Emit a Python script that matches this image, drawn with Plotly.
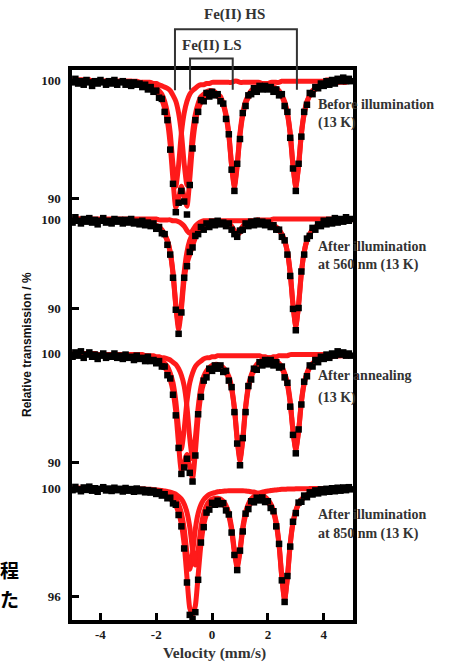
import plotly.graph_objects as go

# ---------------- data ----------------
velocity = [-5.0, -4.9, -4.8, -4.7, -4.6, -4.5, -4.4, -4.3, -4.2, -4.1,
            -4.0, -3.9, -3.8, -3.7, -3.6, -3.5, -3.4, -3.3, -3.2, -3.1,
            -3.0, -2.9, -2.8, -2.7, -2.6, -2.5, -2.4, -2.3, -2.2, -2.1,
            -2.0, -1.9, -1.8, -1.7, -1.6, -1.5, -1.4, -1.3, -1.2, -1.1,
            -1.0, -0.9, -0.8, -0.7, -0.6, -0.5, -0.4, -0.3, -0.2, -0.1,
            0.0, 0.1, 0.2, 0.3, 0.4, 0.5, 0.6, 0.7, 0.8, 0.9,
            1.0, 1.1, 1.2, 1.3, 1.4, 1.5, 1.6, 1.7, 1.8, 1.9,
            2.0, 2.1, 2.2, 2.3, 2.4, 2.5, 2.6, 2.7, 2.8, 2.9,
            3.0, 3.1, 3.2, 3.3, 3.4, 3.5, 3.6, 3.7, 3.8, 3.9,
            4.0, 4.1, 4.2, 4.3, 4.4, 4.5, 4.6, 4.7, 4.8, 4.9,
            5.0]

# Panel 1: before illumination (13 K)
p1_data = [99.8, 100.1, 99.7, 99.9, 99.6, 100.0, 99.8, 99.5, 99.9, 99.7,
           100.0, 99.8, 99.6, 99.9, 99.7, 100.0, 99.6, 99.8, 99.9, 99.6,
           99.8, 99.5, 99.8, 99.6, 99.7, 99.4, 99.6, 99.2, 99.4, 99.0,
           99.1, 98.5, 98.4, 97.3, 96.6, 94.1, 91.2, 88.8, 89.6, 90.6,
           89.7, 88.6, 91.1, 94.2, 96.6, 97.3, 98.3, 98.2, 98.9, 98.6,
           99.0, 98.7, 98.8, 98.2, 98.0, 96.7, 95.4, 92.4, 90.6, 92.9,
           95.0, 97.2, 97.8, 98.7, 98.8, 99.3, 99.0, 99.5, 99.2, 99.5,
           99.2, 99.4, 99.0, 99.2, 98.7, 98.8, 97.8, 97.3, 95.1, 92.5,
           90.6, 92.9, 95.2, 97.3, 97.9, 98.9, 98.8, 99.4, 99.3, 99.7,
           99.5, 99.9, 99.6, 100.0, 99.7, 100.1, 99.9, 100.2, 99.9, 100.1,
           99.9]
p1_total = [99.9, 99.9, 99.9, 99.9, 99.9, 99.9, 99.9, 99.9, 99.9, 99.9,
            99.9, 99.9, 99.9, 99.9, 99.9, 99.8, 99.8, 99.8, 99.8, 99.8,
            99.8, 99.7, 99.7, 99.7, 99.6, 99.6, 99.5, 99.4, 99.3, 99.2,
            99.0, 98.7, 98.3, 97.6, 96.5, 94.5, 91.5, 89.2, 90.0, 91.0,
            90.1, 89.3, 91.6, 94.5, 96.4, 97.5, 98.1, 98.4, 98.7, 98.8,
            98.8, 98.8, 98.6, 98.4, 97.9, 96.9, 95.3, 92.7, 90.9, 92.7,
            95.3, 97.0, 98.0, 98.5, 98.9, 99.1, 99.2, 99.3, 99.3, 99.3,
            99.3, 99.3, 99.2, 99.1, 98.9, 98.6, 98.0, 97.1, 95.4, 92.7,
            90.9, 92.7, 95.4, 97.1, 98.1, 98.7, 99.0, 99.2, 99.4, 99.5,
            99.6, 99.6, 99.7, 99.7, 99.8, 99.8, 99.8, 99.8, 99.8, 99.9,
            99.9]
p1_hs = [100.0, 100.0, 100.0, 100.0, 100.0, 100.0, 100.0, 99.9, 99.9, 99.9,
         99.9, 99.9, 99.9, 99.9, 99.9, 99.9, 99.9, 99.9, 99.9, 99.9,
         99.9, 99.9, 99.8, 99.8, 99.8, 99.8, 99.7, 99.6, 99.6, 99.5,
         99.3, 99.1, 98.8, 98.2, 97.2, 95.5, 92.8, 91.0, 92.8, 95.5,
         97.2, 98.2, 98.8, 99.1, 99.3, 99.5, 99.6, 99.6, 99.7, 99.7,
         99.8, 99.8, 99.8, 99.8, 99.8, 99.8, 99.8, 99.8, 99.9, 99.9,
         99.8, 99.8, 99.8, 99.8, 99.8, 99.8, 99.8, 99.8, 99.7, 99.7,
         99.6, 99.6, 99.4, 99.3, 99.1, 98.7, 98.2, 97.2, 95.5, 92.8,
         91.0, 92.8, 95.5, 97.2, 98.2, 98.7, 99.1, 99.3, 99.5, 99.6,
         99.6, 99.7, 99.8, 99.8, 99.8, 99.8, 99.9, 99.9, 99.9, 99.9,
         99.9]
p1_ls = [100.0, 100.0, 100.0, 100.0, 100.0, 100.0, 100.0, 99.9, 99.9, 99.9,
         99.9, 99.9, 99.9, 99.9, 99.9, 99.9, 99.9, 99.9, 99.9, 99.9,
         99.9, 99.9, 99.9, 99.9, 99.8, 99.8, 99.8, 99.8, 99.8, 99.7,
         99.7, 99.6, 99.5, 99.4, 99.3, 99.1, 98.7, 98.2, 97.2, 95.5,
         92.9, 91.1, 92.8, 95.5, 97.1, 98.0, 98.6, 98.8, 99.0, 99.1,
         99.1, 99.0, 98.8, 98.6, 98.0, 97.1, 95.5, 92.8, 91.1, 92.9,
         95.5, 97.2, 98.2, 98.7, 99.1, 99.3, 99.4, 99.5, 99.6, 99.7,
         99.7, 99.8, 99.8, 99.8, 99.8, 99.9, 99.9, 99.9, 99.9, 99.9,
         99.9, 99.9, 99.9, 99.9, 99.9, 99.9, 99.9, 99.9, 99.9, 99.9,
         99.9, 100.0, 100.0, 100.0, 100.0, 100.0, 100.0, 100.0, 100.0, 100.0,
         100.0]

# Panel 2: after illumination at 560 nm (13 K)
p2_data = [99.6, 100.2, 99.8, 99.5, 100.0, 99.7, 100.1, 99.6, 99.9, 99.4,
           99.8, 100.1, 99.6, 99.8, 99.5, 100.0, 99.7, 99.9, 99.5, 99.9,
           99.6, 100.0, 99.5, 99.7, 99.4, 99.8, 99.3, 99.6, 99.2, 99.5,
           98.9, 99.1, 98.4, 98.3, 97.1, 96.0, 93.4, 89.8, 87.1, 89.5,
           93.4, 94.7, 96.3, 96.8, 98.1, 98.3, 99.1, 98.8, 99.5, 99.1,
           99.7, 99.3, 99.8, 99.4, 99.6, 99.2, 99.5, 98.8, 98.3, 98.0,
           98.7, 98.8, 99.5, 99.2, 99.7, 99.3, 99.8, 99.4, 99.7, 99.3,
           99.6, 99.1, 99.3, 98.8, 98.8, 98.0, 97.6, 96.0, 93.6, 89.9,
           87.5, 90.0, 94.1, 96.0, 97.8, 98.1, 99.0, 98.8, 99.4, 99.2,
           99.8, 99.4, 99.9, 99.5, 100.1, 99.6, 100.0, 99.7, 100.2, 99.8,
           100.0]
p2_total = [99.9, 99.9, 99.9, 99.9, 99.9, 99.9, 99.9, 99.9, 99.9, 99.9,
            99.9, 99.9, 99.9, 99.9, 99.9, 99.9, 99.9, 99.9, 99.8, 99.8,
            99.8, 99.8, 99.8, 99.8, 99.7, 99.7, 99.6, 99.6, 99.5, 99.4,
            99.2, 99.0, 98.7, 98.2, 97.5, 96.2, 93.8, 90.2, 87.6, 89.9,
            93.2, 95.0, 96.0, 97.0, 97.9, 98.5, 98.9, 99.1, 99.3, 99.4,
            99.5, 99.5, 99.5, 99.5, 99.5, 99.4, 99.3, 99.0, 98.5, 98.2,
            98.5, 99.0, 99.3, 99.4, 99.5, 99.5, 99.6, 99.6, 99.5, 99.5,
            99.4, 99.3, 99.2, 99.0, 98.7, 98.3, 97.5, 96.3, 93.9, 90.3,
            87.9, 90.3, 93.9, 96.3, 97.6, 98.3, 98.8, 99.0, 99.2, 99.4,
            99.5, 99.6, 99.6, 99.7, 99.7, 99.8, 99.8, 99.8, 99.8, 99.8,
            99.9]
p2_hs = [100.0, 100.0, 100.0, 100.0, 99.9, 99.9, 99.9, 99.9, 99.9, 99.9,
         99.9, 99.9, 99.9, 99.9, 99.9, 99.9, 99.9, 99.9, 99.9, 99.9,
         99.8, 99.8, 99.8, 99.8, 99.7, 99.7, 99.7, 99.6, 99.5, 99.4,
         99.3, 99.1, 98.8, 98.3, 97.6, 96.3, 94.0, 90.4, 88.0, 90.4,
         94.0, 96.3, 97.6, 98.3, 98.8, 99.1, 99.3, 99.4, 99.5, 99.6,
         99.6, 99.7, 99.7, 99.7, 99.8, 99.8, 99.8, 99.8, 99.8, 99.8,
         99.8, 99.8, 99.8, 99.8, 99.8, 99.7, 99.7, 99.7, 99.6, 99.6,
         99.5, 99.4, 99.3, 99.1, 98.8, 98.3, 97.6, 96.3, 94.0, 90.4,
         88.0, 90.4, 94.0, 96.3, 97.6, 98.3, 98.8, 99.1, 99.3, 99.4,
         99.5, 99.6, 99.7, 99.7, 99.7, 99.8, 99.8, 99.8, 99.8, 99.9,
         99.9]
p2_ls = [100.0, 100.0, 100.0, 100.0, 100.0, 100.0, 100.0, 100.0, 100.0, 100.0,
         100.0, 100.0, 100.0, 100.0, 100.0, 100.0, 100.0, 100.0, 100.0, 100.0,
         100.0, 100.0, 100.0, 100.0, 100.0, 100.0, 100.0, 100.0, 100.0, 100.0,
         100.0, 99.9, 99.9, 99.9, 99.9, 99.9, 99.8, 99.8, 99.7, 99.5,
         99.2, 98.7, 98.4, 98.7, 99.2, 99.5, 99.7, 99.8, 99.8, 99.8,
         99.8, 99.8, 99.8, 99.8, 99.7, 99.6, 99.5, 99.2, 98.7, 98.4,
         98.7, 99.2, 99.5, 99.7, 99.8, 99.8, 99.9, 99.9, 99.9, 99.9,
         99.9, 99.9, 100.0, 100.0, 100.0, 100.0, 100.0, 100.0, 100.0, 100.0,
         100.0, 100.0, 100.0, 100.0, 100.0, 100.0, 100.0, 100.0, 100.0, 100.0,
         100.0, 100.0, 100.0, 100.0, 100.0, 100.0, 100.0, 100.0, 100.0, 100.0,
         100.0]

# Panel 3: after annealing (13 K)
p3_data = [99.7, 100.1, 99.8, 100.2, 99.6, 99.9, 100.1, 99.7, 99.9, 99.5,
           99.8, 100.0, 99.6, 99.8, 99.7, 100.0, 99.6, 99.8, 99.5, 99.9,
           99.6, 99.7, 99.4, 99.8, 99.5, 99.6, 99.3, 99.7, 99.3, 99.4,
           99.1, 99.3, 98.8, 98.8, 98.0, 97.7, 96.2, 94.3, 91.3, 88.9,
           89.5, 90.3, 89.0, 88.2, 90.6, 94.4, 96.0, 97.5, 97.8, 98.6,
           98.4, 98.9, 98.6, 98.9, 98.3, 98.4, 97.5, 96.9, 94.6, 91.7,
           89.7, 92.2, 94.6, 97.0, 97.6, 98.6, 98.5, 99.2, 98.9, 99.4,
           99.0, 99.4, 98.9, 99.2, 98.7, 98.8, 97.8, 97.3, 95.1, 92.5,
           90.8, 93.0, 95.3, 97.4, 97.9, 98.9, 98.8, 99.4, 99.2, 99.7,
           99.5, 99.9, 99.6, 100.0, 99.8, 100.2, 99.9, 100.1, 99.8, 100.0,
           99.8]
p3_total = [99.9, 99.9, 99.9, 99.9, 99.9, 99.9, 99.9, 99.9, 99.9, 99.9,
            99.9, 99.9, 99.9, 99.9, 99.9, 99.9, 99.8, 99.8, 99.8, 99.8,
            99.8, 99.8, 99.8, 99.7, 99.7, 99.7, 99.6, 99.6, 99.5, 99.4,
            99.3, 99.2, 99.0, 98.7, 98.3, 97.6, 96.5, 94.6, 91.6, 89.2,
            89.9, 90.7, 89.5, 88.5, 90.9, 94.1, 96.2, 97.3, 98.0, 98.4,
            98.6, 98.7, 98.7, 98.7, 98.5, 98.2, 97.7, 96.7, 94.9, 92.0,
            90.1, 92.0, 94.9, 96.8, 97.8, 98.4, 98.7, 99.0, 99.1, 99.2,
            99.2, 99.2, 99.1, 99.1, 98.9, 98.6, 98.0, 97.1, 95.4, 92.8,
            91.1, 92.8, 95.5, 97.2, 98.1, 98.7, 99.0, 99.2, 99.4, 99.5,
            99.6, 99.6, 99.7, 99.7, 99.8, 99.8, 99.8, 99.8, 99.8, 99.8,
            99.9]
p3_hs = [100.0, 100.0, 100.0, 100.0, 100.0, 100.0, 100.0, 100.0, 100.0, 99.9,
         99.9, 99.9, 99.9, 99.9, 99.9, 99.9, 99.9, 99.9, 99.9, 99.9,
         99.9, 99.9, 99.9, 99.9, 99.8, 99.8, 99.8, 99.8, 99.7, 99.7,
         99.6, 99.5, 99.3, 99.1, 98.8, 98.2, 97.3, 95.6, 93.0, 91.2,
         93.0, 95.6, 97.3, 98.2, 98.8, 99.1, 99.3, 99.5, 99.6, 99.6,
         99.7, 99.7, 99.8, 99.8, 99.8, 99.8, 99.8, 99.8, 99.8, 99.8,
         99.8, 99.8, 99.8, 99.8, 99.8, 99.8, 99.8, 99.8, 99.7, 99.7,
         99.6, 99.6, 99.5, 99.3, 99.1, 98.8, 98.2, 97.3, 95.6, 92.9,
         91.2, 92.9, 95.6, 97.3, 98.2, 98.8, 99.1, 99.3, 99.5, 99.6,
         99.6, 99.7, 99.7, 99.8, 99.8, 99.8, 99.8, 99.9, 99.9, 99.9,
         99.9]
p3_ls = [100.0, 100.0, 100.0, 100.0, 100.0, 100.0, 100.0, 100.0, 100.0, 99.9,
         99.9, 99.9, 99.9, 99.9, 99.9, 99.9, 99.9, 99.9, 99.9, 99.9,
         99.9, 99.9, 99.9, 99.9, 99.9, 99.9, 99.8, 99.8, 99.8, 99.8,
         99.7, 99.7, 99.6, 99.6, 99.5, 99.4, 99.2, 99.0, 98.6, 98.0,
         97.0, 95.1, 92.2, 90.3, 92.2, 95.0, 96.9, 97.9, 98.4, 98.7,
         98.9, 99.0, 99.0, 98.9, 98.7, 98.4, 97.9, 96.9, 95.0, 92.2,
         90.3, 92.2, 95.1, 97.0, 98.0, 98.6, 99.0, 99.2, 99.4, 99.5,
         99.6, 99.6, 99.7, 99.7, 99.8, 99.8, 99.8, 99.8, 99.9, 99.9,
         99.9, 99.9, 99.9, 99.9, 99.9, 99.9, 99.9, 99.9, 99.9, 99.9,
         99.9, 99.9, 99.9, 99.9, 100.0, 100.0, 100.0, 100.0, 100.0, 100.0,
         100.0]

# Panel 4: after illumination at 850 nm (13 K)
p4_data = [99.92, 100.04, 99.95, 99.88, 100.02, 99.93, 100.05, 99.90, 99.99, 99.86,
           99.97, 100.03, 99.91, 99.98, 99.89, 100.01, 99.92, 99.97, 99.87, 100.00,
           99.90, 99.96, 99.86, 99.98, 99.88, 99.94, 99.84, 99.92, 99.83, 99.90,
           99.78, 99.85, 99.72, 99.77, 99.62, 99.64, 99.43, 99.38, 99.00, 98.58,
           97.76, 96.50, 95.30, 95.15, 95.40, 96.60, 97.98, 98.55, 99.09, 99.20,
           99.45, 99.38, 99.53, 99.40, 99.44, 99.17, 99.02, 98.35, 97.52, 96.96,
           97.68, 98.39, 99.05, 99.22, 99.51, 99.47, 99.64, 99.54, 99.65, 99.48,
           99.51, 99.26, 99.14, 98.58, 97.93, 96.58, 95.78, 96.74, 97.83, 98.75,
           99.07, 99.46, 99.49, 99.72, 99.66, 99.84, 99.76, 99.91, 99.80, 99.95,
           99.84, 99.97, 99.86, 99.99, 99.88, 100.01, 99.90, 100.02, 99.92, 100.03,
           99.95]
p4_total = [99.98, 99.98, 99.98, 99.98, 99.98, 99.98, 99.98, 99.96, 99.96, 99.96,
            99.96, 99.96, 99.96, 99.96, 99.96, 99.96, 99.96, 99.95, 99.95, 99.94,
            99.94, 99.94, 99.93, 99.93, 99.92, 99.91, 99.91, 99.89, 99.88, 99.86,
            99.84, 99.82, 99.79, 99.74, 99.69, 99.61, 99.50, 99.35, 99.08, 98.66,
            97.90, 96.69, 95.55, 95.31, 95.64, 96.76, 97.91, 98.63, 99.03, 99.27,
            99.39, 99.45, 99.48, 99.46, 99.39, 99.24, 98.96, 98.43, 97.60, 97.05,
            97.62, 98.46, 98.99, 99.29, 99.45, 99.54, 99.59, 99.60, 99.59, 99.54,
            99.46, 99.33, 99.09, 98.66, 97.88, 96.66, 95.84, 96.67, 97.90, 98.69,
            99.14, 99.40, 99.55, 99.65, 99.72, 99.78, 99.82, 99.84, 99.86, 99.88,
            99.89, 99.90, 99.91, 99.92, 99.93, 99.94, 99.94, 99.95, 99.95, 99.96,
            99.96]
p4_hs = [99.99, 99.99, 99.99, 99.99, 99.99, 99.99, 99.99, 99.98, 99.98, 99.98,
         99.98, 99.98, 99.98, 99.98, 99.98, 99.98, 99.98, 99.97, 99.97, 99.97,
         99.97, 99.97, 99.96, 99.96, 99.96, 99.95, 99.95, 99.94, 99.93, 99.92,
         99.91, 99.90, 99.88, 99.85, 99.82, 99.76, 99.69, 99.58, 99.39, 99.07,
         98.49, 97.59, 96.99, 97.59, 98.49, 99.06, 99.38, 99.57, 99.68, 99.76,
         99.80, 99.83, 99.86, 99.87, 99.88, 99.89, 99.90, 99.90, 99.90, 99.90,
         99.90, 99.90, 99.89, 99.88, 99.86, 99.85, 99.82, 99.79, 99.74, 99.67,
         99.57, 99.42, 99.17, 98.73, 97.94, 96.71, 95.89, 96.71, 97.94, 98.73,
         99.17, 99.43, 99.58, 99.68, 99.75, 99.80, 99.84, 99.86, 99.88, 99.90,
         99.91, 99.92, 99.93, 99.94, 99.95, 99.95, 99.95, 99.96, 99.96, 99.97,
         99.97]
p4_ls = [99.99, 99.99, 99.99, 99.99, 99.99, 99.99, 99.99, 99.98, 99.98, 99.98,
         99.98, 99.98, 99.98, 99.98, 99.98, 99.98, 99.98, 99.98, 99.98, 99.97,
         99.97, 99.97, 99.97, 99.97, 99.96, 99.96, 99.96, 99.95, 99.95, 99.94,
         99.93, 99.92, 99.91, 99.89, 99.87, 99.85, 99.81, 99.77, 99.69, 99.59,
         99.41, 99.10, 98.56, 97.72, 97.15, 97.70, 98.53, 99.06, 99.35, 99.51,
         99.59, 99.62, 99.62, 99.59, 99.51, 99.35, 99.06, 98.53, 97.70, 97.15,
         97.72, 98.56, 99.10, 99.41, 99.59, 99.69, 99.77, 99.81, 99.85, 99.87,
         99.89, 99.91, 99.92, 99.93, 99.94, 99.95, 99.95, 99.96, 99.96, 99.96,
         99.97, 99.97, 99.97, 99.97, 99.97, 99.98, 99.98, 99.98, 99.98, 99.98,
         99.98, 99.98, 99.98, 99.98, 99.98, 99.99, 99.99, 99.99, 99.99, 99.99,
         99.99]

panel_labels = [["Before illumination", "(13 K)"],
                ["After illumination", "at 560 nm (13 K)"],
                ["After annealing", "(13 K)"],
                ["After illumination", "at 850 nm (13 K)"]]
panel_ticks = [[100, 90], [100, 90], [100, 90], [100, 96]]

hs_bracket = [-1.33, 3.04]   # Fe(II) HS line positions (mm/s)
ls_bracket = [-0.79, 0.74]   # Fe(II) LS line positions (mm/s)

# ---------------- layout constants for the stacked axis ----------------
panel_base = [540.0, 401.0, 266.5, 132.0]    # where 100 % of each spectrum sits
panel_scale = [11.8, 8.9, 10.85, 27.0]       # axis units per 1 % transmission

spectra = [
    (p1_data, p1_total, p1_hs, p1_ls),
    (p2_data, p2_total, p2_hs, p2_ls),
    (p3_data, p3_total, p3_hs, p3_ls),
    (p4_data, p4_total, p4_hs, p4_ls),
]
for arrs in spectra:
    for a in arrs:
        assert len(a) == len(velocity), len(a)


def stack(values, i):
    return [panel_base[i] + (t - 100.0) * panel_scale[i] for t in values]


RED = "#ff1a1a"
fig = go.Figure()

for i, (dat, tot, hs, ls) in enumerate(spectra):
    for comp in (hs, ls, tot):
        fig.add_trace(go.Scatter(
            x=velocity, y=stack(comp, i), mode="lines",
            line=dict(color=RED, width=5, shape="spline", smoothing=0.6),
            showlegend=False, hoverinfo="skip"))
for i, (dat, tot, hs, ls) in enumerate(spectra):
    fig.add_trace(go.Scatter(
        x=velocity, y=stack(dat, i), mode="markers",
        marker=dict(color="black", size=6.5, symbol="square"),
        showlegend=False, hoverinfo="skip"))

tickvals, ticktext = [], []
for i, labs in enumerate(panel_ticks):
    for lab in labs:
        tickvals.append(stack([lab], i)[0])
        ticktext.append(str(lab))

tickfont = dict(family="Liberation Serif", size=13, color="#1a1a1a", weight="bold")

fig.update_xaxes(range=[-5.02, 5.05], tickvals=[-4, -2, 0, 2, 4],
                 ticktext=["-4", "-2", "0", "2", "4"],
                 ticks="inside", ticklen=7, tickwidth=3, tickcolor="black",
                 showline=True, linewidth=3.5, linecolor="black", mirror=True,
                 showgrid=False, zeroline=False, tickfont=tickfont)
fig.update_yaxes(range=[0, 550], tickvals=tickvals, ticktext=ticktext,
                 ticks="inside", ticklen=7, tickwidth=3, tickcolor="black",
                 showline=True, linewidth=3.5, linecolor="black", mirror=True,
                 showgrid=False, zeroline=False, tickfont=tickfont,
                 ticklabelstandoff=5)

lab_font = dict(family="Liberation Serif", size=14, color="#333333", weight="bold")
label_y = [[0.938, 0.904], [0.679, 0.6455], [0.444, 0.4036], [0.191, 0.156]]
annotations = []
for labs, ys in zip(panel_labels, label_y):
    for txt, yy in zip(labs, ys):
        annotations.append(dict(text=txt, x=0.868, y=yy, xref="paper", yref="paper",
                                xanchor="left", yanchor="middle", showarrow=False,
                                font=lab_font))

annotations += [
    dict(text="Fe(II) HS", x=0.82, y=1.1, xref="x", yref="paper",
         xanchor="center", yanchor="middle", showarrow=False,
         font=dict(family="Liberation Serif", size=15, color="#333333", weight="bold")),
    dict(text="Fe(II) LS", x=-0.01, y=1.044, xref="x", yref="paper",
         xanchor="center", yanchor="middle", showarrow=False,
         font=dict(family="Liberation Serif", size=15, color="#333333", weight="bold")),
    dict(text="Velocity (mm/s)", x=0.1, y=-0.06, xref="x", yref="paper",
         xanchor="center", yanchor="middle", showarrow=False,
         font=dict(family="Liberation Serif", size=15.5, color="#333333", weight="bold")),
    dict(text="Relative transmission / %", x=-0.16, y=0.50, xref="paper", yref="paper",
         xanchor="center", yanchor="middle", showarrow=False, textangle=-90,
         font=dict(family="Liberation Sans", size=12, color="#111111", weight="bold")),
    dict(text="程", x=-0.221, y=0.091, xref="paper", yref="paper",
         xanchor="center", yanchor="middle", showarrow=False,
         font=dict(family="Noto Sans CJK JP", size=19, color="black", weight="bold")),
    dict(text="た", x=-0.221, y=0.040, xref="paper", yref="paper",
         xanchor="center", yanchor="middle", showarrow=False,
         font=dict(family="Noto Sans CJK JP", size=19, color="black", weight="bold")),
]

br_line = dict(color="#333333", width=2)
shapes = [
    dict(type="path", xref="x", yref="paper", line=br_line,
         path=f"M {hs_bracket[0]},0.963 L {hs_bracket[0]},1.074 L {hs_bracket[1]},1.074 L {hs_bracket[1]},0.964"),
    dict(type="path", xref="x", yref="paper", line=br_line,
         path=f"M {ls_bracket[0]},0.964 L {ls_bracket[0]},1.021 L {ls_bracket[1]},1.021 L {ls_bracket[1]},0.964"),
]

fig.update_layout(
    width=464, height=664,
    margin=dict(l=72, r=111, t=70, b=44),
    paper_bgcolor="white", plot_bgcolor="white",
    annotations=annotations, shapes=shapes,
    showlegend=False,
)

fig.write_html("out.html")
